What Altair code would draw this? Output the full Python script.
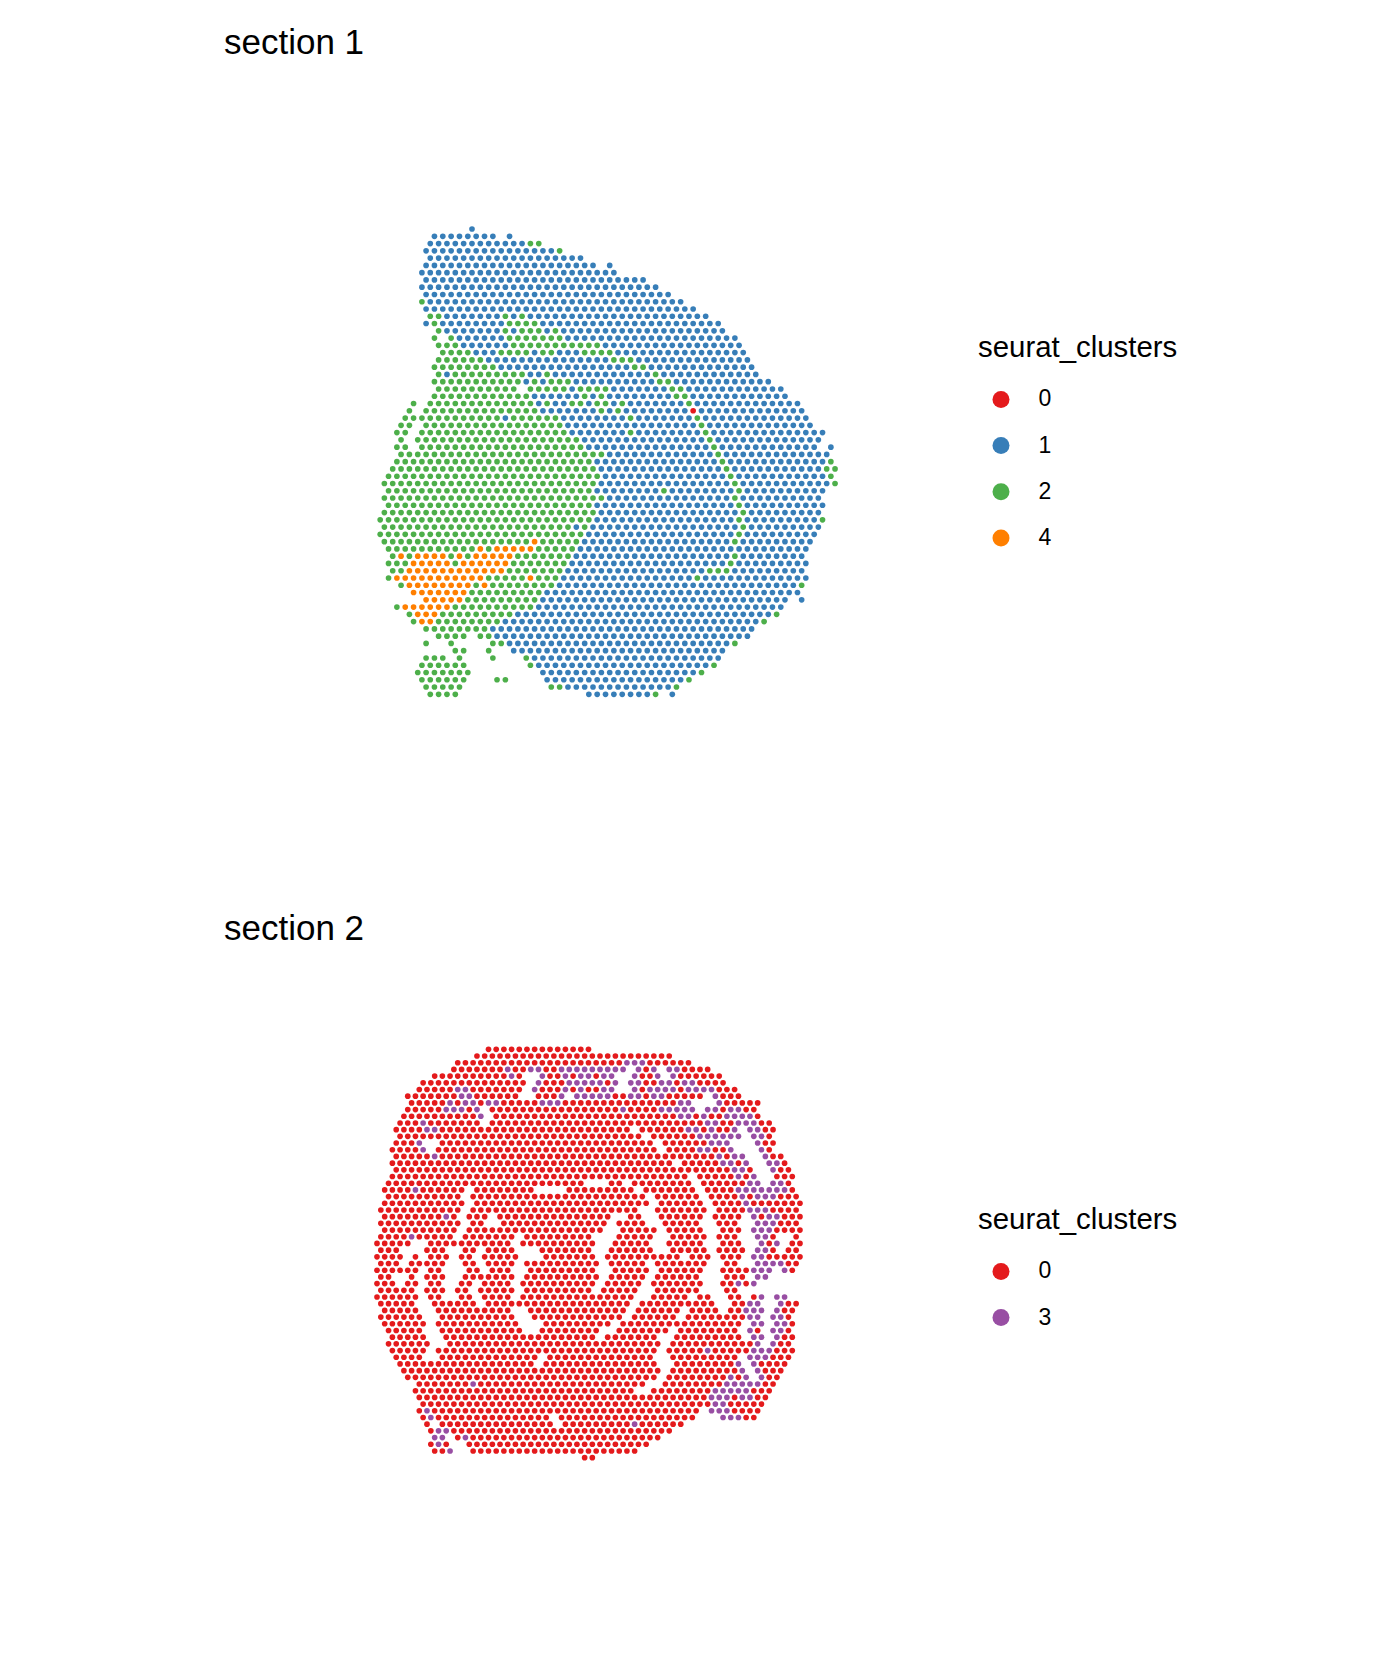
import altair as alt
import pandas as pd

FONT = "Liberation Sans"
CLUSTER_COLOURS = {"0": "#E41A1C", "1": "#377EB8", "2": "#4DAF4A", "3": "#984EA3", "4": "#FF7F00"}

# Spot grid: one entry per array row, runs are "first-last:cluster" (array columns, step 2).
SECTION1_ROWS = [
    "24:1",
    "15-29:1 33:1",
    "14-36:1 38-40:2",
    "13-43:1 45:2",
    "14-50:1",
    "13-53:1 57:1",
    "12-58:1",
    "13-65:1",
    "12-68:1",
    "13-71:1",
    "12:2 14-74:1",
    "13-77:1",
    "14-16:2 18-30:1 32:2 34:1 36:2 38-80:1",
    "13:1 15:2 17-31:1 33-39:2 41-83:1",
    "16:2 18-30:1 32:2 34:1 36-40:2 42:1 44:2 46-84:1",
    "15:2 19:2 21-31:1 33-45:2 47-87:1",
    "16-20:2 22-32:1 34-54:2 56-88:1",
    "17-23:2 25-29:1 31-37:2 39:1 41-43:2 45-49:1 51-57:2 59-89:1",
    "16-26:2 28-56:1 58-62:2 64-90:1",
    "15-29:2 31-61:1 63-65:2 67-91:1",
    "16:2 18:1 20-36:2 38-40:1 42:2 44-66:1 68:2 70-92:1",
    "15-35:2 37:1 39:2 41:1 43-47:2 49-67:1 69-71:2 73-95:1",
    "16-34:2 38-46:2 48:1 50-56:2 58-70:1 72-74:2 76-98:1",
    "15-37:2 39-49:1 51:2 53:1 55:2 57-71:1 73-75:2 77-99:1",
    "10:2 14-38:2 40:1 42:2 44-46:1 48-50:2 52:1 54-56:2 58:1 60:2 62-74:1 76:2 78-102:1",
    "9:2 13-39:2 41-53:1 55:2 57:1 59:2 61-75:1 77:0 79-103:1",
    "8-30:2 32:1 34-44:2 46-60:1 62:2 64-76:1 78:2 80-104:1",
    "7-9:2 13-45:2 47-77:1 79:2 81-105:1",
    "6-8:2 12-46:2 48-60:1 62:2 64-78:1 80:2 82-108:1",
    "7:2 11-49:2 51-79:1 81:2 83-107:1",
    "6-8:2 12-50:2 52-80:1 82:2 84-106:1 110:1",
    "7-55:2 57-81:1 83:2 85-109:1",
    "6-52:2 54-82:1 84:2 86-108:1 110:2",
    "5-53:2 55-83:1 85:2 87-107:1 109-111:2",
    "4-54:2 56-84:1 86:2 88-108:1 110:2",
    "3-53:2 55-85:1 87:2 89-109:1 111:2",
    "4-52:2 54-68:1 70:2 72-86:1 88:2 90-108:1",
    "3-55:2 57-85:1 87:2 89-107:1",
    "4-52:2 54-86:1 88:2 90-108:1",
    "3-53:2 55-87:1 89:2 91-107:1",
    "2-52:2 54-86:1 88:2 90-106:1 108:2",
    "3-47:2 49:1 51:2 53-87:1 89:2 91-107:1",
    "2-50:2 52-86:1 88:2 90-106:1",
    "3-37:2 39:4 41-49:2 51-85:1 87:2 89-105:1",
    "4-24:2 26:4 28:2 30-38:4 40-48:2 50-104:1",
    "5:2 7:4 9:2 11-17:4 19:2 21:4 23:2 25-33:4 35-47:2 49-85:1 87:2 89-103:1",
    "4-8:2 10-18:4 20:2 22-32:4 34-46:2 48-84:1 86:2 88-104:1",
    "5-7:2 9-31:4 33-45:2 47-79:1 81-85:2 87-103:1",
    "4:2 6-26:4 28-36:2 38:4 40-44:2 46-76:1 78:2 80-104:1",
    "7:2 9-23:4 25:2 27:4 29-43:2 45-101:1 103:2",
    "10-22:4 24-40:2 42-102:1",
    "13-21:4 23-39:2 41-99:1 103:1",
    "6:2 8-18:4 20-38:2 40-98:1",
    "9:2 11-15:4 17-33:2 35-95:1 97:2",
    "10:2 12-14:4 16-30:2 32-92:1 94:2",
    "13-27:2 29-91:1",
    "16-22:2 26-28:2 30-90:1",
    "13:2 19:2 29-31:2 33-85:1 87:2",
    "20-22:2 28:2 34-84:1",
    "13-17:2 21:2 29:2 37:2 39-83:1",
    "12-22:2 38:2 40-80:1 82:2",
    "11-23:2 41-77:1 79:2",
    "12-22:2 30-32:2 42-74:1 76:2",
    "13-21:2 43-45:2 47-71:1 73:2",
    "14-20:2 52-66:1 68:2 72:1",
]

SECTION2_ROWS = [
    "29-55:0",
    "26-76:0",
    "21-63:0 65-69:3 71-81:0",
    "20-32:0 34:3 36-38:0 40-42:3 44-46:0 48-64:3 68:3 70:0 72:3 76-78:3 80-86:0",
    "15-33:0 35:3 37:0 43:3 45-47:0 49:3 51:0 53-55:3 57:0 59-61:3 67:3 69-71:0 73:3 77:3 79-89:0",
    "12-38:0 42:3 44-48:0 50-58:3 60:0 62:3 66-68:3 70-72:0 74-76:3 78:0 80-82:3 84-90:0",
    "11-19:0 21-23:3 25-37:0 41:3 43-47:0 49:3 51:0 53:3 55-57:0 59-61:3 67:3 69:0 71-77:3 79:0 81-87:3 89-93:0",
    "8-20:0 22-24:3 26-36:0 42-46:0 48:3 52-60:3 62-64:0 66-68:3 70:0 72-74:3 76-84:0 88:3 90-94:0",
    "9-17:0 19:3 21:0 23-25:3 27:0 29-31:3 33-41:0 43-47:3 49-77:0 79-81:3 89:3 91-99:0",
    "8-16:0 18-22:3 24:0 26:3 30-62:0 64:3 66-72:0 74-82:3 86-88:3 90:0 92-94:3 96-98:0",
    "7-25:0 27:3 31-77:0 79-81:3 83:0 85:3 87-89:0 91-97:3 99:0",
    "6-10:0 12:3 14-26:0 30-84:0 86-88:3 90-92:0 94-98:3 100-102:0",
    "5-11:0 13-15:3 17-65:0 69-79:0 81-83:3 85:0 87:3 89-91:0 93:3 97-99:3 101-103:0",
    "6-68:0 72-82:0 84-94:3 98-100:3 102:0",
    "5-9:0 11:3 17-71:0 75-85:0 87-91:3 99:3 101-103:0",
    "4-10:0 12:3 16-72:0 76-82:0 84-86:3 88-90:0 92:3 100:3 102:0",
    "5-13:0 15:3 17-87:0 89:3 91:0 93-95:3 101:3 103-105:0",
    "4-76:0 80-88:0 90-92:3 94:0 96:3 102-104:3 106:0",
    "5-91:0 93-95:3 97:0 103:3 105-107:0",
    "4-80:0 84-92:0 94:3 96:0 98:3 104-108:0",
    "3-53:0 61-63:0 67-81:0 85-95:0 97-99:3 103-105:3 107:0",
    "2-8:0 10:3 12-22:0 26-40:0 50-66:0 70-82:0 86-92:0 94-106:3 108:0",
    "3-21:0 25-69:0 73-83:0 87-93:0 95:3 97:0 99-103:3 105-109:0",
    "2-22:0 26-70:0 74-84:0 88-94:0 96:3 98-110:0",
    "1-21:0 25-67:0 73-85:0 89-95:0 97-101:3 103-109:0",
    "2-16:0 18:3 20:0 24-28:0 32-60:0 66-68:0 74-84:0 88-94:0 98:3 100:0 102-104:3 106-110:0",
    "1-21:0 25-27:0 33-59:0 63-69:0 75-83:0 89-93:0 99-103:3 105-109:0",
    "2-20:0 24-58:0 64-72:0 76-84:0 90-94:0 98-102:3 104-110:0",
    "1-7:0 9:3 11-19:0 23-35:0 39-55:0 63-71:0 77-85:0 89-93:0 99-101:3 103:0 109:0",
    "0-8:0 14-34:0 38-56:0 62-70:0 76-84:0 90-94:0 100:3 102:0 104:3 108-110:0",
    "1-5:0 13-17:0 23-25:0 29-35:0 43-55:0 61-71:0 77-85:0 89-95:0 99-101:3 103:0 107-109:0",
    "0-6:0 10:0 14-18:0 22-24:0 28-36:0 44-56:0 60-78:0 82-86:0 90-94:0 98-100:3 102-110:0",
    "1-5:0 9-17:0 23-25:0 29-35:0 39-57:0 61-69:0 73-85:0 91-93:0 99-105:3 107-109:0",
    "0-10:0 14-16:0 24-26:0 30-34:0 40-56:0 62-70:0 74-84:0 90-96:0 98-102:3 106:3 108:0",
    "1-3:0 9:0 13-17:0 23-35:0 39-57:0 61-69:0 73-83:0 91-95:0 99-101:3",
    "0-4:0 8-10:0 14-16:0 22-24:0 28-34:0 38-56:0 60-68:0 72-84:0 90-92:0 94:3 96:0 98:3",
    "1-9:0 13-17:0 21-23:0 27-35:0 39-55:0 59-67:0 73-83:0 91-93:0",
    "0-10:0 14-16:0 22-24:0 28-34:0 38-66:0 72-80:0 84-86:0 92-94:0 98:0 100:3 104-106:3",
    "1-9:0 15-25:0 29-65:0 69-87:0 93-95:0 97-99:3 105:3 107-109:0",
    "2-10:0 16-34:0 40-64:0 68-78:0 82-88:0 92-94:0 96-100:3 104:3 106-108:0",
    "1-11:0 17-35:0 41-63:0 67-77:0 81-95:0 97-99:3 103-105:3 107:0",
    "2-12:0 16-36:0 44-60:0 64-94:0 98-100:3 104-106:3 108:0",
    "3-11:0 17-37:0 43-57:0 63-75:0 79-93:0 97:3 99:0 103-105:3 107:0",
    "4-12:0 18-56:0 60-72:0 78-94:0 98-100:3 104:3 106-108:0",
    "3-13:0 19-73:0 77-95:0 97:0 99:3 103:3 105-107:0",
    "4-12:0 16-72:0 76-84:0 86:3 88-96:0 98-102:3 104-108:0",
    "5-11:0 17-41:0 45-71:0 77-93:0 97-101:3 103-107:0",
    "6-40:0 44-72:0 78-92:0 94:3 98:3 100-106:0",
    "7-73:0 77-93:0 95:3 99:3 101-105:0",
    "8-72:0 76-90:0 92:3 94:0 96:3 100:3 102-104:0",
    "11-23:0 25:3 27-69:0 75-89:0 91-99:3 101-103:0",
    "10-66:0 72-86:0 88-96:3 98-102:0",
    "11-85:0 87-91:3 93:0 95-97:3 99-101:0",
    "12-86:0 88-90:3 92-100:0",
    "11:0 13:3 15-83:0 87-91:3 93-99:0",
    "12:0 14:3 16-44:0 48-82:0 90-94:3 96-98:0",
    "13:0 17-45:0 49-65:0 67:3 69-79:0",
    "14:0 16-18:3 20-76:0",
    "15-17:3 21:0 23:3 25-73:0",
    "14:0 16:3 18:0 24-70:0",
    "15-17:0 19:3 25-67:0",
    "54-56:0",
]

SECTION1_LEVELS = ["0", "1", "2", "4"]
SECTION2_LEVELS = ["0", "3"]


def spots(rows):
    out = []
    for row, text in enumerate(rows):
        for token in text.split():
            span, cluster = token.split(":")
            first, _, last = span.partition("-")
            for col in range(int(first), int(last or first) + 1, 2):
                out.append({"col": col, "row": row, "seurat_clusters": cluster})
    return pd.DataFrame(out)


def panel(rows, levels, title, xdom, ydom, h, legend_y, title_offset):
    return (
        alt.Chart(spots(rows), title=alt.TitleParams(
            title, anchor="start", frame="group", font=FONT, fontSize=35,
            fontWeight="normal", color="black", offset=title_offset))
        .mark_circle(size=32, opacity=1)
        .encode(
            x=alt.X("col:Q", axis=None, scale=alt.Scale(domain=xdom, nice=False, zero=False)),
            y=alt.Y("row:Q", axis=None, scale=alt.Scale(domain=ydom, nice=False, zero=False, reverse=True)),
            color=alt.Color(
                "seurat_clusters:N",
                scale=alt.Scale(domain=levels, range=[CLUSTER_COLOURS[k] for k in levels]),
                legend=alt.Legend(
                    title="seurat_clusters", orient="none", legendX=754, legendY=legend_y,
                    titleFont=FONT, titleFontSize=29.4, titleFontWeight="normal", titleColor="black",
                    titleLimit=400,
                    labelFont=FONT, labelFontSize=23, labelColor="black",
                    symbolType="circle", symbolSize=289, symbolOpacity=1, symbolStrokeWidth=0,
                    symbolOffset=11.5, labelOffset=26, rowPadding=22.2, titlePadding=24.5, padding=0,
                ),
            ),
        )
        .properties(width=726, height=h)
    )


top = panel(SECTION1_ROWS, SECTION1_LEVELS, "section 1", [-35.43, 138.55], [-20.5, 84.04], 760, 254, 19)
bottom = panel(SECTION2_ROWS, SECTION2_LEVELS, "section 2", [-39.79, 149.02], [-12.3, 86.3], 660, 239, 20)

chart = (
    alt.vconcat(top, bottom, spacing=72)
    .resolve_scale(color="independent")
    .properties(padding={"left": 216, "top": 18, "right": 0, "bottom": 0})
    .configure_view(stroke=None)
)
chart.save("out.html", embed_options={"renderer": "svg", "actions": False})
